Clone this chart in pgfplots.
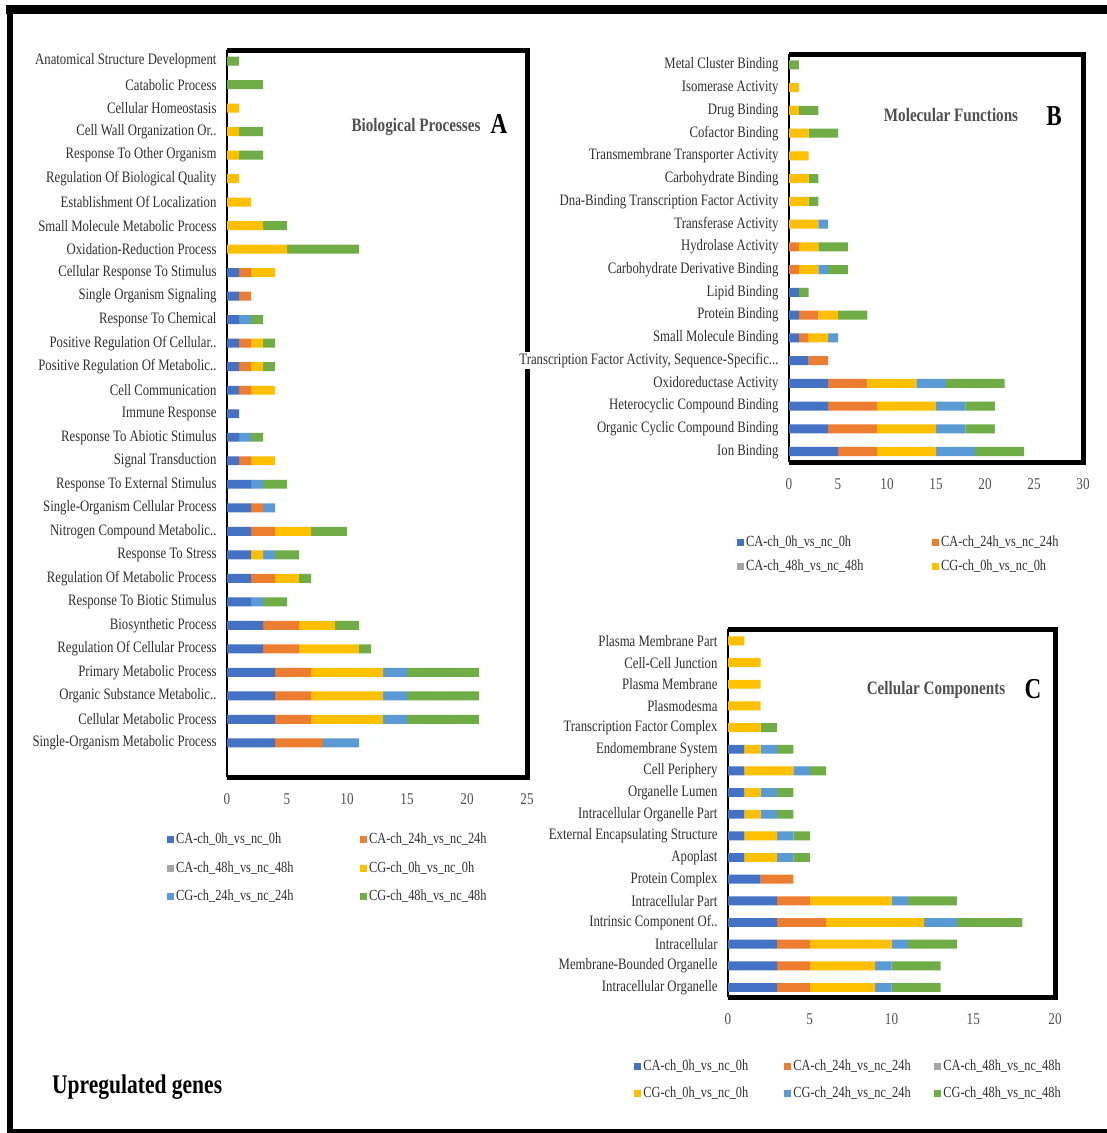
\documentclass[border=0pt]{standalone}
\usepackage{pgfplots}
\pgfplotsset{compat=1.18}
\usepackage{pgfplotstable}
\usepackage{fontspec}
\setmainfont[FakeStretch=0.8]{Liberation Serif}

\definecolor{caZero}{HTML}{4472C4}
\definecolor{caTwenty}{HTML}{ED7D31}
\definecolor{caForty}{HTML}{A5A5A5}
\definecolor{cgZero}{HTML}{FFC000}
\definecolor{cgTwenty}{HTML}{5B9BD5}
\definecolor{cgForty}{HTML}{70AD47}
\definecolor{labgray}{HTML}{303030}
\definecolor{tickgray}{HTML}{505050}

% Biological processes (row 0 = bottom bar)
\pgfplotstableread{
idx ca0 ca24 ca48 cg0 cg24 cg48
0 4 4 0 0 3 0
1 4 3 0 6 2 6
2 4 3 0 6 2 6
3 4 3 0 6 2 6
4 3 3 0 5 0 1
5 3 3 0 3 0 2
6 2 0 0 0 1 2
7 2 2 0 2 0 1
8 2 0 0 1 1 2
9 2 2 0 3 0 3
10 2 1 0 0 1 0
11 2 0 0 0 1 2
12 1 1 0 2 0 0
13 1 0 0 0 1 1
14 1 0 0 0 0 0
15 1 1 0 2 0 0
16 1 1 0 1 0 1
17 1 1 0 1 0 1
18 1 0 0 0 1 1
19 1 1 0 0 0 0
20 1 1 0 2 0 0
21 0 0 0 5 0 6
22 0 0 0 3 0 2
23 0 0 0 2 0 0
24 0 0 0 1 0 0
25 0 0 0 1 0 2
26 0 0 0 1 0 2
27 0 0 0 1 0 0
28 0 0 0 0 0 3
29 0 0 0 0 0 1
}\tabBP

% Molecular functions
\pgfplotstableread{
idx ca0 ca24 ca48 cg0 cg24 cg48
0 5 4 0 6 4 5
1 4 5 0 6 3 3
2 4 5 0 6 3 3
3 4 4 0 5 3 6
4 2 2 0 0 0 0
5 1 1 0 2 1 0
6 1 2 0 2 0 3
7 1 0 0 0 0 1
8 0 1 0 2 1 2
9 0 1 0 2 0 3
10 0 0 0 3 1 0
11 0 0 0 2 0 1
12 0 0 0 2 0 1
13 0 0 0 2 0 0
14 0 0 0 2 0 3
15 0 0 0 1 0 2
16 0 0 0 1 0 0
17 0 0 0 0 0 1
}\tabMF

% Cellular components
\pgfplotstableread{
idx ca0 ca24 ca48 cg0 cg24 cg48
0 3 2 0 4 1 3
1 3 2 0 4 1 3
2 3 2 0 5 1 3
3 3 3 0 6 2 4
4 3 2 0 5 1 3
5 2 2 0 0 0 0
6 1 0 0 2 1 1
7 1 0 0 2 1 1
8 1 0 0 1 1 1
9 1 0 0 1 1 1
10 1 0 0 3 1 1
11 1 0 0 1 1 1
12 0 0 0 2 0 1
13 0 0 0 2 0 0
14 0 0 0 2 0 0
15 0 0 0 2 0 0
16 0 0 0 1 0 0
}\tabCC

\newcommand\labfont{\fontsize{16}{18}\selectfont}
\newcommand\tickfont{\fontsize{16.5}{18}\selectfont}
\newcommand\legfont{\fontsize{15.5}{17}\selectfont}
\newcommand\dd{.\kern0pt.}
\newcommand\ddd{.\kern0pt.\kern0pt.}

\pgfplotsset{
  gopanel/.style={
    scale only axis,
    xbar stacked,
    xmin=0,
    axis line style={draw=none},
    major tick length=0pt,
    tick style={draw=none},
    clip=false,
    yticklabel style={font=\labfont, text=labgray, xshift=-7bp},
    xticklabel style={font=\tickfont, text=tickgray, yshift=-13bp},
    /pgf/number format/assume math mode=true,
    legend cell align=left,
    legend image code/.code={\fill[##1] (0bp,-3.5bp) rectangle (7bp,3.5bp);},
    legend style={draw=none, fill=none, inner sep=0pt, font=\legfont,
      text=labgray, anchor=west},
    every axis plot/.append style={draw=none},
  },
}

\newcommand\stackbars[1]{%
  \addplot[fill=caZero]   table[x=ca0,  y=idx] {#1};
  \addplot[fill=caTwenty] table[x=ca24, y=idx] {#1};
  \addplot[fill=caForty]  table[x=ca48, y=idx] {#1};
  \addplot[fill=cgZero]   table[x=cg0,  y=idx] {#1};
  \addplot[fill=cgTwenty] table[x=cg24, y=idx] {#1};
  \addplot[fill=cgForty]  table[x=cg48, y=idx] {#1};
}
\newcommand\panelborder{%
  \draw[line width=5bp, black] (rel axis cs:0,1) -- (rel axis cs:1,1)
     -- (rel axis cs:1,0) -- (rel axis cs:0,0);
  \draw[line width=2.5bp, black] (rel axis cs:0,0) -- (rel axis cs:0,1);
}

\begin{document}
\begin{tikzpicture}
\path[use as bounding box] (0bp,0bp) rectangle (1107bp,-1133bp);
\fill[white] (0bp,0bp) rectangle (1107bp,-1133bp);

% outer frame
\draw[line width=9bp] (6bp,-9.5bp) -- (1107bp,-9.5bp);
\draw[line width=6bp] (10bp,-5bp) -- (10bp,-1133bp);
\draw[line width=4bp] (7bp,-1131bp) -- (1107bp,-1131bp);

% ---------- A: Biological Processes ----------
\begin{axis}[gopanel,
  at={(227bp,-777bp)}, anchor=south west,
  width=300bp, height=727bp,
  xmax=25, xtick={0,5,...,25},
  ymin=-1.45, ymax=29.47, bar width=0.38,
  ytick={0,...,29},
  yticklabels={Single-Organism Metabolic Process, Cellular Metabolic Process,
    Organic Substance Metabolic\dd, Primary Metabolic Process,
    Regulation Of Cellular Process, Biosynthetic Process,
    Response To Biotic Stimulus, Regulation Of Metabolic Process,
    Response To Stress, Nitrogen Compound Metabolic\dd,
    Single-Organism Cellular Process, Response To External Stimulus,
    Signal Transduction, Response To Abiotic Stimulus, Immune Response,
    Cell Communication, Positive Regulation Of Metabolic\dd,
    Positive Regulation Of Cellular\dd, Response To Chemical,
    Single Organism Signaling, Cellular Response To Stimulus,
    Oxidation-Reduction Process, Small Molecule Metabolic Process,
    Establishment Of Localization, Regulation Of Biological Quality,
    Response To Other Organism, Cell Wall Organization Or\dd,
    Cellular Homeostasis, Catabolic Process, Anatomical Structure Development},
  legend columns=2,
  legend style={at={(rel axis cs:-0.2,-0.1258)},
    nodes={text width=182bp, inner xsep=2bp, inner ysep=0pt,
      text height=11bp, text depth=3bp},
    row sep=14.5bp},
]
\stackbars{\tabBP}
\panelborder
\legend{CA-ch\_0h\_vs\_nc\_0h, CA-ch\_24h\_vs\_nc\_24h, CA-ch\_48h\_vs\_nc\_48h,
  CG-ch\_0h\_vs\_nc\_0h, CG-ch\_24h\_vs\_nc\_24h, CG-ch\_48h\_vs\_nc\_48h}
\end{axis}

% ---------- B: Molecular Functions ----------
\begin{axis}[gopanel,
  at={(789bp,-462bp)}, anchor=south west,
  width=294bp, height=408bp,
  xmax=30, xtick={0,5,...,30},
  ymin=-0.46, ymax=17.48, bar width=0.4,
  ytick={0,...,17},
  yticklabel style={fill=white, inner ysep=1bp},
  yticklabels={Ion Binding, Organic Cyclic Compound Binding,
    Heterocyclic Compound Binding, Oxidoreductase Activity,
    {Transcription Factor Activity, Sequence-Specific\ddd},
    Small Molecule Binding, Protein Binding, Lipid Binding,
    Carbohydrate Derivative Binding, Hydrolase Activity, Transferase Activity,
    Dna-Binding Transcription Factor Activity, Carbohydrate Binding,
    Transmembrane Transporter Activity, Cofactor Binding, Drug Binding,
    Isomerase Activity, Metal Cluster Binding},
  legend columns=2,
  legend style={at={(rel axis cs:-0.177,-0.2255)},
    nodes={text width=184bp, inner xsep=2bp, inner ysep=0pt,
      text height=11bp, text depth=3bp},
    row sep=10bp},
]
\stackbars{\tabMF}
\panelborder
\legend{CA-ch\_0h\_vs\_nc\_0h, CA-ch\_24h\_vs\_nc\_24h, CA-ch\_48h\_vs\_nc\_48h,
  CG-ch\_0h\_vs\_nc\_0h}
\end{axis}

% ---------- C: Cellular Components ----------
\begin{axis}[gopanel,
  at={(728bp,-997bp)}, anchor=south west,
  width=327bp, height=368bp,
  xmax=20, xtick={0,5,...,20},
  ymin=-0.44, ymax=16.55, bar width=0.41,
  ytick={0,...,16},
  yticklabels={Intracellular Organelle, Membrane-Bounded Organelle, Intracellular,
    Intrinsic Component Of\dd, Intracellular Part, Protein Complex, Apoplast,
    External Encapsulating Structure, Intracellular Organelle Part,
    Organelle Lumen, Cell Periphery, Endomembrane System,
    Transcription Factor Complex, Plasmodesma, Plasma Membrane,
    Cell-Cell Junction, Plasma Membrane Part},
  legend columns=3,
  legend style={at={(rel axis cs:-0.287,-0.2242)},
    nodes={text width=139bp, inner xsep=2bp, inner ysep=0pt,
      text height=11bp, text depth=3bp},
    row sep=13bp},
]
\stackbars{\tabCC}
\panelborder
\legend{CA-ch\_0h\_vs\_nc\_0h, CA-ch\_24h\_vs\_nc\_24h, CA-ch\_48h\_vs\_nc\_48h,
  CG-ch\_0h\_vs\_nc\_0h, CG-ch\_24h\_vs\_nc\_24h, CG-ch\_48h\_vs\_nc\_48h}
\end{axis}

% panel headings
\node[font=\bfseries\fontsize{19}{21}\selectfont, text=tickgray] at (416bp,-127bp) {Biological Processes};
\node[font=\bfseries\fontsize{29}{31}\selectfont] at (499bp,-124bp) {A};
\node[font=\bfseries\fontsize{19}{21}\selectfont, text=tickgray] at (951bp,-115bp) {Molecular Functions};
\node[font=\bfseries\fontsize{29}{31}\selectfont] at (1054bp,-116bp) {B};
\node[font=\bfseries\fontsize{19}{21}\selectfont, text=tickgray] at (936bp,-690bp) {Cellular Components};
\node[font=\bfseries\fontsize{29}{31}\selectfont] at (1033bp,-689bp) {C};
\node[font=\bfseries\fontsize{27}{29}\selectfont, anchor=west, inner sep=0pt] at (52bp,-1087bp) {Upregulated genes};
\end{tikzpicture}
\end{document}
